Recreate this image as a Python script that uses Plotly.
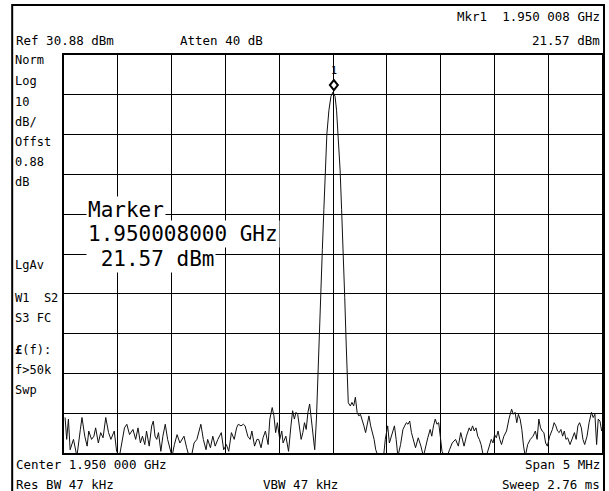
import plotly.graph_objects as go

start_ghz = 1.9475
span_mhz = 5.0
ref_dbm = 30.88
db_per_div = 10

freq_khz = [10, 25, 41, 57, 88, 120, 152, 167, 193, 215, 230, 256, 278, 294, 319, 341, 363, 388, 414, 436,
            467, 489, 515, 540, 562, 584, 609, 641, 666, 688, 710, 729, 751, 767, 792, 815, 830, 846, 862, 878,
            900, 919, 941, 963, 988, 1004, 1026, 1051, 1077, 1099, 1115, 1140, 1162, 1184, 1209, 1235, 1257, 1272, 1295, 1320,
            1335, 1361, 1383, 1405, 1430, 1462, 1484, 1509, 1531, 1556, 1582, 1604, 1620, 1645, 1667, 1683, 1708, 1730, 1746, 1771,
            1793, 1809, 1831, 1850, 1872, 1897, 1913, 1935, 1951, 1967, 1983, 2005, 2024, 2036, 2062, 2087, 2109, 2125, 2141, 2156,
            2172, 2188, 2204, 2220, 2235, 2251, 2267, 2283, 2298, 2314, 2330, 2346,
            2358, 2372, 2386, 2401, 2415, 2429, 2443, 2462, 2481, 2500, 2519, 2533, 2547, 2566, 2580, 2595, 2609, 2623, 2632, 2642,
            2661, 2676, 2692, 2708, 2724, 2740, 2755, 2771, 2787, 2803, 2819, 2834, 2850, 2866, 2882, 2897, 2920, 2945, 2970, 2986,
            3008, 3024, 3040, 3055, 3071, 3087, 3103, 3128, 3150, 3166, 3182, 3197, 3213, 3229, 3245, 3267, 3292, 3317, 3340, 3362,
            3381, 3403, 3418, 3434, 3450, 3466, 3482, 3497, 3513, 3538, 3561, 3583, 3608, 3639, 3665, 3687, 3703, 3718, 3740, 3766,
            3781, 3797, 3813, 3829, 3845, 3860, 3876, 3898, 3924, 3949, 3971, 3987, 4002, 4018, 4034, 4050, 4066, 4088, 4113, 4135,
            4151, 4160, 4176, 4192, 4208, 4223, 4239, 4255, 4271, 4287, 4309, 4334, 4359, 4381, 4397, 4413, 4429, 4444, 4460, 4476,
            4492, 4514, 4539, 4555, 4571, 4587, 4602, 4618, 4634, 4650, 4665, 4681, 4703, 4729, 4744, 4760, 4776, 4792, 4808, 4823,
            4839, 4861, 4880, 4902, 4918, 4934, 4950, 4965, 4981, 4997]

level_dbm = [-60.2, -65.7, -60.6, -68.3, -65.7, -70, -63.2, -60.2, -64.9, -67.4, -63.6, -65.7, -64.9, -62.8, -66.6, -64.0, -65.3, -60.2, -64.0, -65.7,
             -63.6, -68.7, -70, -65.7, -62.8, -61.9, -64.5, -63.2, -65.7, -62.8, -66.6, -64.9, -67.0, -63.6, -67.4, -62.3, -61.1, -64.9, -65.7, -64.0,
             -68.7, -64.9, -61.9, -65.7, -68.3, -70, -67.0, -64.5, -66.6, -65.7, -64.9, -67.8, -70, -70, -66.6, -65.7, -63.6, -61.9, -65.7, -68.3,
             -65.7, -67.8, -64.9, -67.4, -65.7, -64.0, -68.3, -67.0, -68.7, -64.0, -65.7, -62.8, -61.9, -62.3, -61.9, -62.3, -64.9, -65.7, -63.6, -67.4,
             -65.7, -65.7, -67.8, -65.3, -63.6, -67.0, -60.6, -57.7, -59.8, -64.0, -61.5, -65.7, -63.6, -66.6, -64.9, -68.7, -62.3, -58.5, -60.6, -58.9,
             -59.4, -63.2, -65.7, -64.0, -61.5, -63.2, -58.9, -56.8, -60.6, -64.0, -68.3, -60.6,
             -50, -40, -30, -18, -8, 2, 11, 17, 20.5, 21.57, 20.5, 17, 11, 2, -8, -18, -30, -42, -52, -56.5,
             -57.3, -56.4, -57.3, -55.1, -58.9, -59.8, -59.4, -60.6, -62.3, -64.0, -61.5, -59.8, -62.3, -64.0, -65.7, -68.3, -70, -70, -70, -65.7,
             -62.3, -66.6, -65.3, -63.6, -62.3, -65.7, -70, -67.0, -63.2, -62.3, -61.5, -61.9, -61.1, -64.0, -65.7, -67.8, -65.3, -67.4, -70, -67.0,
             -65.3, -63.2, -64.9, -62.3, -60.6, -61.9, -61.5, -64.9, -68.7, -70, -70, -68.3, -66.6, -65.7, -67.4, -64.0, -65.7, -67.4, -64.9, -62.8,
             -63.6, -62.3, -63.6, -62.8, -64.9, -65.7, -67.0, -70, -70, -67.4, -65.7, -66.6, -64.5, -65.3, -63.6, -65.7, -67.0, -64.9, -63.6, -60.6,
             -58.5, -58.1, -59.4, -58.9, -61.5, -59.4, -60.6, -63.2, -67.4, -70, -67.0, -65.7, -64.9, -63.6, -65.7, -60.6, -62.8, -63.6, -64.0, -66.6,
             -67.4, -64.9, -63.2, -61.5, -62.3, -63.6, -64.0, -63.2, -64.9, -63.6, -65.7, -65.3, -67.0, -64.9, -64.0, -65.7, -62.3, -61.5, -62.8, -65.7,
             -67.0, -64.9, -61.5, -58.9, -60.2, -59.4, -67.0, -60.6, -61.1, -63.6]

marker_ghz = 1.950008
marker_dbm = 21.57

top_left_texts = ["Ref 30.88 dBm", "Atten 40 dB"]
top_right_texts = ["Mkr1  1.950 008 GHz", "21.57 dBm"]
side_labels = ["Norm", "Log", "10", "dB/", "Offst", "0.88", "dB", "LgAv", "W1  S2", "S3 FC", "<b>£</b>(f):", "f>50k", "Swp"]
bottom_texts = ["Center 1.950 000 GHz", "Span 5 MHz", "Res BW 47 kHz", "VBW 47 kHz", "Sweep 2.76 ms"]
marker_texts = ["Marker", "1.950008000 GHz", " 21.57 dBm"]

# ---- geometry (pixels) ----
W, H = 609, 491
L, R, T, B = 64, 604, 55, 453
FONT = "DejaVu Sans Mono"


def px(x):
    return (x - L) / (R - L)


def py(y):
    return (B - y) / (B - T)


freq_ghz = [start_ghz + k / 1e6 for k in freq_khz]
stop_ghz = start_ghz + span_mhz / 1000

fig = go.Figure()
fig.add_trace(go.Scatter(x=freq_ghz, y=level_dbm, mode="lines",
                         line=dict(color="#111111", width=1), hoverinfo="skip", showlegend=False))

ann = []


def text(x, y, s, anchor="left", size=12, bg=None):
    d = dict(xref="paper", yref="paper", x=px(x), y=py(y), text=s, showarrow=False,
             xanchor=anchor, yanchor="middle", font=dict(family=FONT, size=size, color="black"))
    if bg:
        d.update(bgcolor=bg, borderpad=1)
    ann.append(d)


text(604, 17, top_right_texts[0], "right", size=12.5)
text(14, 40, top_left_texts[0], size=12.5)
text(178, 40, top_left_texts[1], size=12.5)
text(604, 40, top_right_texts[1], "right", size=12.5)

side_y = [60, 81, 102, 122, 142, 162, 182, 265, 298, 318, 350, 370, 390]
for s, yy in zip(side_labels, side_y):
    text(13, yy, s, size=12)

text(14, 465, bottom_texts[0], size=12.5)
text(604, 465, bottom_texts[1], "right", size=12.5)
text(14, 484, bottom_texts[2], size=12.5)
text(262, 484, bottom_texts[3], size=12.5)
text(604, 484, bottom_texts[4], "right", size=12.5)

text(86, 210, marker_texts[0], size=21, bg="white")
text(86, 234, marker_texts[1], size=21, bg="white")
text(86, 259, marker_texts[2], size=21, bg="white")

ann.append(dict(x=marker_ghz, y=marker_dbm, xref="x", yref="y", text="1", showarrow=False,
                yshift=22, font=dict(family=FONT, size=10, color="black")))

shapes = [
    dict(type="rect", xref="paper", yref="paper",
         x0=px(12), x1=px(606), y0=py(495), y1=py(5),
         line=dict(color="black", width=2), layer="below"),
    # marker diamond drawn just above the marker point
    dict(type="path", xref="x", yref="y", xsizemode="pixel", ysizemode="pixel",
         xanchor=marker_ghz, yanchor=marker_dbm,
         path="M 0,2 L 4,7 L 0,12 L -4,7 Z",
         line=dict(color="black", width=2), fillcolor="white", layer="above"),
]

fig.update_layout(
    width=W, height=H,
    margin=dict(l=L, r=W - R, t=T, b=H - B, pad=0),
    paper_bgcolor="white", plot_bgcolor="white",
    annotations=ann,
    shapes=shapes,
    xaxis=dict(range=[start_ghz, stop_ghz], tick0=start_ghz, dtick=span_mhz / 10000,
               showgrid=True, gridcolor="black", gridwidth=1, showticklabels=False, ticks="",
               zeroline=False, showline=True, linecolor="black", linewidth=2, mirror=True),
    yaxis=dict(range=[ref_dbm - 10 * db_per_div, ref_dbm], tick0=ref_dbm, dtick=db_per_div,
               showgrid=True, gridcolor="black", gridwidth=1, showticklabels=False, ticks="",
               zeroline=False, showline=True, linecolor="black", linewidth=2, mirror=True),
)

fig.write_html("out.html", config={"displayModeBar": False},
               post_script="document.body.style.margin='0';document.body.style.overflow='hidden';")
